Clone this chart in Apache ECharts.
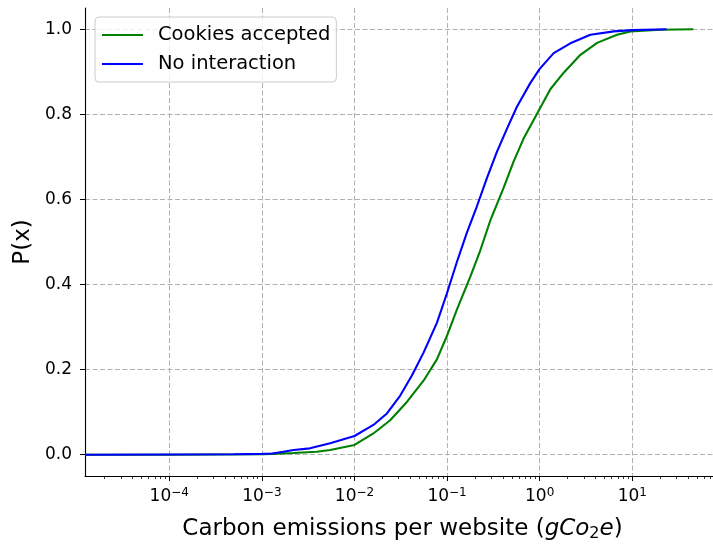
<!DOCTYPE html>
<html>
<head>
<meta charset="utf-8">
<script src="https://cdn.jsdelivr.net/npm/echarts@6/dist/echarts.min.js"></script>
<style>
  html, body { margin: 0; padding: 0; background: #ffffff; }
  #chart { width: 713px; height: 547px; }
</style>
</head>
<body>
<div id="chart"></div>
<script>
// Empirical CDF of carbon emissions per website (gCO2e), two browsing conditions.
const seriesNames = ['Cookies accepted', 'No interaction'];

const cookiesX = [1.23e-5, 1e-4, 1e-3, 1.3e-3, 2.2e-3, 3.9e-3, 5.46e-3, 0.01, 0.016, 0.0243,
  0.0368, 0.0557, 0.0776, 0.0995, 0.1276, 0.1778, 0.228, 0.2924, 0.4074, 0.5224,
  0.6699, 0.9333, 1.303, 1.816, 2.754, 4.169, 6.839, 9.55, 20, 45.6];
const cookiesP = [0, 0, 0.001, 0.002, 0.004, 0.007, 0.011, 0.023, 0.050, 0.081,
  0.124, 0.174, 0.224, 0.279, 0.341, 0.418, 0.480, 0.550, 0.627, 0.689,
  0.743, 0.801, 0.859, 0.898, 0.940, 0.968, 0.987, 0.995, 0.999, 1.0];

const noInteractionX = [1.23e-5, 1e-4, 5e-4, 1e-3, 1.3e-3, 1.7e-3, 2.2e-3, 3.3e-3, 5.46e-3, 0.01,
  0.016, 0.0224, 0.0312, 0.0417, 0.0557, 0.0776, 0.0995, 0.1276, 0.1637, 0.2099,
  0.2692, 0.3451, 0.4426, 0.5675, 0.794, 1.0, 1.416, 2.143, 3.524, 6.31, 10, 23.5];
const noInteractionP = [0, 0.0005, 0.001, 0.002, 0.003, 0.007, 0.011, 0.015, 0.027, 0.044,
  0.070, 0.097, 0.139, 0.186, 0.240, 0.310, 0.379, 0.453, 0.522, 0.584,
  0.650, 0.712, 0.766, 0.818, 0.874, 0.907, 0.944, 0.967, 0.987, 0.995, 0.998, 1.0];

// Axis ticks
const xTickExponents = [-4, -3, -2, -1, 0, 1];
const xMinorMantissas = [2, 3, 4, 5, 6, 7, 8, 9];
const xMinorDecades = [-5, -4, -3, -2, -1, 0, 1];
const yTicks = [0, 0.2, 0.4, 0.6, 0.8, 1.0];

const X_MIN = 1.23e-5;
const X_MAX = 74.4;
const FONT = 'DejaVu Sans';

const xMajorValues = xTickExponents.map(e => Math.pow(10, e));
const xMinorValues = [];
xMinorDecades.forEach(d => xMinorMantissas.forEach(m => {
  const v = m * Math.pow(10, d);
  if (v >= X_MIN && v <= X_MAX) xMinorValues.push(v);
}));

const zip = (xs, ys) => xs.map((x, i) => [x, ys[i]]);

function expLabel(v) {
  const e = Math.round(Math.log10(v));
  const s = e < 0 ? '\u2212' + (-e) : String(e);
  return '{b|10}{s|' + s + '}';
}

const chart = echarts.init(document.getElementById('chart'), null, { renderer: 'canvas' });

chart.setOption({
  animation: false,
  backgroundColor: '#ffffff',
  textStyle: { fontFamily: FONT },
  grid: { left: 85, top: 8, right: 0, bottom: 65.5, containLabel: false },
  legend: {
    data: seriesNames,
    orient: 'vertical',
    left: 95,
    top: 17,
    padding: [8, 6, 8, 7],
    icon: 'rect',
    itemWidth: 41,
    itemHeight: 2,
    itemGap: 9,
    backgroundColor: 'rgba(255,255,255,0.8)',
    borderColor: '#cccccc',
    borderWidth: 1,
    borderRadius: 4,
    textStyle: { fontFamily: FONT, fontSize: 19.5, color: '#000000', lineHeight: 20, padding: [0, 0, 0, 10] }
  },
  xAxis: [
    {
      type: 'log',
      logBase: 10,
      min: X_MIN,
      max: X_MAX,
      position: 'bottom',
      axisLine: { show: true, onZero: false, lineStyle: { color: '#000000', width: 1.1 } },
      axisTick: { show: true, customValues: xMajorValues, length: 5, lineStyle: { color: '#000000', width: 1 } },
      axisLabel: {
        customValues: xMajorValues,
        margin: 11,
        color: '#000000',
        fontFamily: FONT,
        formatter: expLabel,
        rich: {
          b: { fontSize: 17, fontFamily: FONT, color: '#000000' },
          s: { fontSize: 12, fontFamily: FONT, color: '#000000', padding: [0, 0, 7, 0] }
        }
      },
      splitLine: { show: true, lineStyle: { color: '#b0b0b0', width: 1, type: [5, 2.5] } },
      name: 'Carbon emissions per website ({it|gCo}{sub|2}{it|e})',
      nameLocation: 'middle',
      nameGap: 40,
      nameTextStyle: {
        fontFamily: FONT, fontSize: 23, color: '#000000', padding: [0, 0, 0, 7],
        rich: {
          it: { fontFamily: FONT, fontSize: 23, fontStyle: 'italic', color: '#000000' },
          sub: { fontFamily: FONT, fontSize: 16, fontStyle: 'normal', color: '#000000', padding: [10, 0, 0, 0] }
        }
      }
    },
    {
      // minor ticks of the log axis
      type: 'log',
      logBase: 10,
      min: X_MIN,
      max: X_MAX,
      position: 'bottom',
      axisLine: { show: false, onZero: false },
      axisTick: { show: true, customValues: xMinorValues, length: 3, lineStyle: { color: '#000000', width: 0.8 } },
      axisLabel: { show: false },
      splitLine: { show: false }
    }
  ],
  yAxis: {
    type: 'value',
    min: -0.05,
    max: 1.05,
    axisLine: { show: true, onZero: false, lineStyle: { color: '#000000', width: 1.1 } },
    axisTick: { show: true, customValues: yTicks, length: 5, lineStyle: { color: '#000000', width: 1 } },
    axisLabel: {
      customValues: yTicks,
      margin: 13,
      color: '#000000',
      fontFamily: FONT,
      fontSize: 17,
      formatter: v => v.toFixed(1)
    },
    splitLine: { show: true, lineStyle: { color: '#b0b0b0', width: 1, type: [5, 2.5] } },
    name: 'P(x)',
    nameLocation: 'middle',
    nameGap: 47,
    nameTextStyle: { fontFamily: FONT, fontSize: 23, color: '#000000' }
  },
  series: [
    {
      name: seriesNames[0],
      type: 'line',
      data: zip(cookiesX, cookiesP),
      symbol: 'none',
      smooth: false,
      lineStyle: { color: '#008000', width: 2.1 },
      itemStyle: { color: '#008000' }
    },
    {
      name: seriesNames[1],
      type: 'line',
      data: zip(noInteractionX, noInteractionP),
      symbol: 'none',
      smooth: false,
      lineStyle: { color: '#0000ff', width: 2.1 },
      itemStyle: { color: '#0000ff' }
    }
  ]
});
</script>
</body>
</html>
